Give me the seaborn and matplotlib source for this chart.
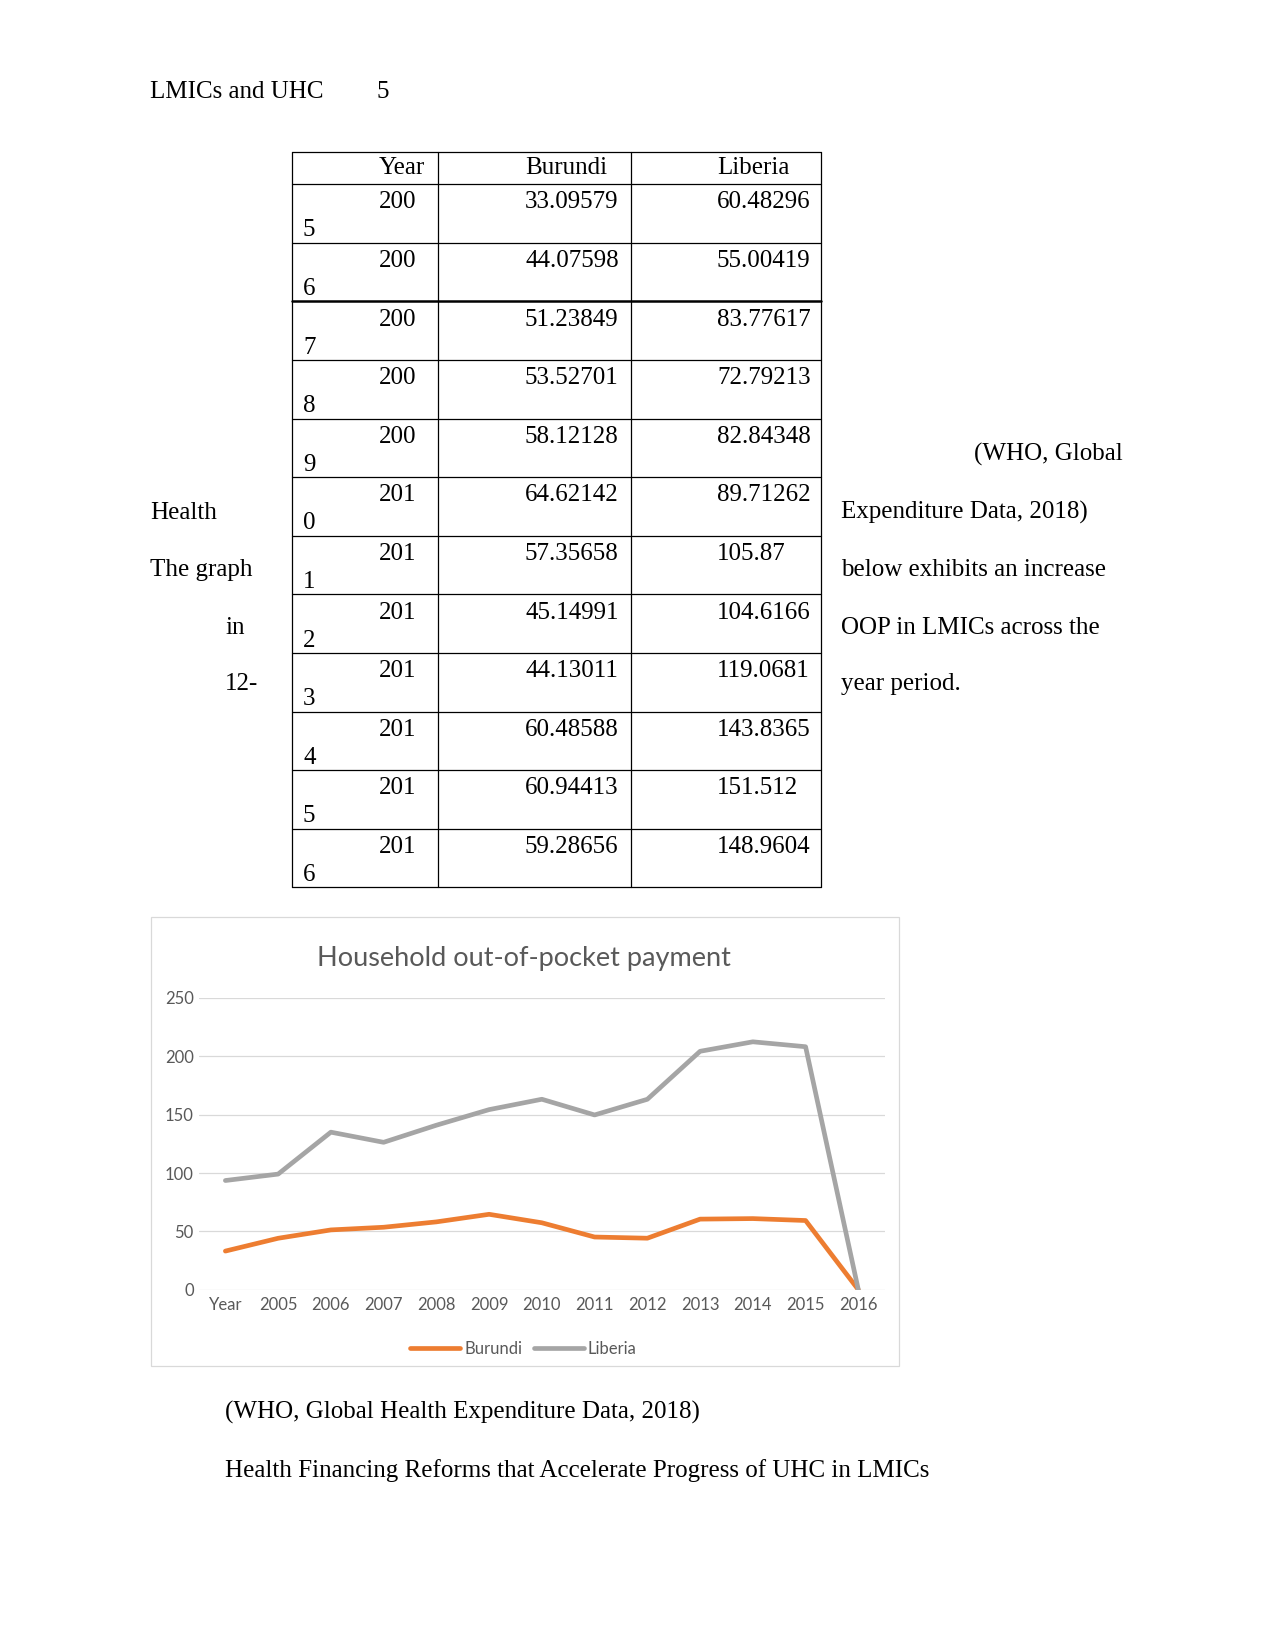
import matplotlib
matplotlib.use("Agg")
import matplotlib.pyplot as plt
import seaborn as sns
import pandas as pd
import numpy as np
from matplotlib.patches import Rectangle

# table data (WHO, Global Health Expenditure Data)
years = ["2005", "2006", "2007", "2008", "2009", "2010",
         "2011", "2012", "2013", "2014", "2015", "2016"]
burundi = ["33.09579", "44.07598", "51.23849", "53.52701", "58.12128", "64.62142",
           "57.35658", "45.14991", "44.13011", "60.48588", "60.94413", "59.28656"]
liberia = ["60.48296", "55.00419", "83.77617", "72.79213", "82.84348", "89.71262",
           "105.87", "104.6166", "119.0681", "143.8365", "151.512", "148.9604"]

# chart series (categories shifted as in the original sheet, last point empty)
chart_labels = ["Year"] + years
chart_burundi = [float(v) for v in burundi] + [0.0]
chart_liberia = [float(v) for v in liberia] + [0.0]

sns.set_style("white")
plt.rcParams["font.family"] = ["Liberation Serif", "DejaVu Serif"]

W, H = 1275, 1651
fig = plt.figure(figsize=(W / 150, H / 150), dpi=150)

# page layer in pixel coordinates
bg = fig.add_axes([0, 0, 1, 1])
bg.set_xlim(0, W)
bg.set_ylim(H, 0)
bg.axis("off")

dy = 2.2  # small baseline nudge
txt = dict(fontsize=12, color="black", va="center")
bg.text(150.5, 89.5 + dy, "LMICs and UHC", ha="left", **txt)
bg.text(376, 89.5 + dy, "5", ha="left", **txt)

# table grid
col_x = [291.6, 438, 630.6, 821.2]
head_top, head_bot = 151.6, 184.2
row_h = 58.6
n = len(years)
bottom = head_bot + row_h * n
for x in col_x:
    bg.plot([x, x], [head_top, bottom], color="black", lw=0.6)
bg.plot([col_x[0], col_x[-1]], [head_top, head_top], color="black", lw=0.6)
for i in range(n + 1):
    y = head_bot + row_h * i
    bg.plot([col_x[0], col_x[-1]], [y, y], color="black", lw=1.2 if i == 2 else 0.6)

bg.text(379, 166 + dy, "Year", ha="left", **txt)
bg.text(525, 166 + dy, "Burundi", ha="left", **txt)
bg.text(717, 166 + dy, "Liberia", ha="left", **txt)
for i in range(n):
    top = head_bot + row_h * i
    bg.text(379, top + 16 + dy, years[i][:3], ha="left", **txt)
    bg.text(303, top + 44 + dy, years[i][3:], ha="left", **txt)
    bg.text(525, top + 16 + dy, burundi[i], ha="left", **txt)
    bg.text(717, top + 16 + dy, liberia[i], ha="left", **txt)

# wrapped paragraph around the table
bg.text(1123, 452.7 + dy, "(WHO, Global", ha="right", **txt)
bg.text(150.5, 510.6 + dy, "Health", ha="left", **txt)
bg.text(841, 510.6 + dy, "Expenditure Data, 2018)", ha="left", **txt)
bg.text(150.5, 567.5 + dy, "The graph", ha="left", **txt)
bg.text(841, 567.5 + dy, "below exhibits an increase", ha="left", **txt)
bg.text(225, 625.4 + dy, "in", ha="left", **txt)
bg.text(841, 625.4 + dy, "OOP in LMICs across the", ha="left", **txt)
bg.text(225, 682 + dy, "12-", ha="left", **txt)
bg.text(841, 682 + dy, "year period.", ha="left", **txt)

bg.text(225.3, 1412.5, "(WHO, Global Health Expenditure Data, 2018)", ha="left", **txt)
bg.text(225.3, 1470.5, "Health Financing Reforms that Accelerate Progress of UHC in LMICs",
        ha="left", **txt)

# chart frame
bg.add_patch(Rectangle((150.5, 917), 748.5, 448.5, fill=False,
                       edgecolor="#D9D9D9", lw=0.6))

# chart
gray_txt = "#595959"
df = pd.DataFrame({
    "cat": chart_labels * 2,
    "value": np.concatenate([np.array(chart_burundi),
                             np.array(chart_burundi) + np.array(chart_liberia)]),
    "country": ["Burundi"] * len(chart_labels) + ["Liberia"] * len(chart_labels),
})

left, right = 199 / W, 884.7 / W
y_top, y_bot = 998, 1289.7
ax = fig.add_axes([left, 1 - y_bot / H, right - left, (y_bot - y_top) / H])
ax.set_facecolor("none")
sns.lineplot(data=df, x="cat", y="value", hue="country", sort=False,
             palette={"Burundi": "#ED7D31", "Liberia": "#A5A5A5"},
             linewidth=2.25, ax=ax, legend=True,
             solid_capstyle="round", solid_joinstyle="round")
ax.set_xlim(-0.5, len(chart_labels) - 0.5)
ax.set_ylim(0, 250)
ax.set_yticks([0, 50, 100, 150, 200, 250])
ax.grid(axis="y", color="#D9D9D9", lw=0.6)
ax.grid(axis="x", visible=False)
for s in ax.spines.values():
    s.set_visible(False)
ax.set_xlabel("")
ax.set_ylabel("")
ax.tick_params(axis="both", length=0, labelsize=8, labelcolor=gray_txt)
ax.tick_params(axis="y", pad=2.5)
ax.tick_params(axis="x", pad=3.5)
for lab in ax.get_xticklabels() + ax.get_yticklabels():
    lab.set_fontfamily("Lato")

ax.text(0.474, 1.135, "Household out-of-pocket payment", transform=ax.transAxes,
        ha="center", va="center", fontsize=13, color=gray_txt, family="Lato")

leg = ax.legend(loc="center", bbox_to_anchor=(0.473, -0.202), ncol=2, frameon=False,
                handlelength=3.0, handletextpad=0.25, columnspacing=0.7,
                prop={"family": "Lato", "size": 8})
for t in leg.get_texts():
    t.set_color(gray_txt)
for h in leg.legend_handles:
    h.set_linewidth(2.25)

fig.savefig("out.png", dpi=150)
